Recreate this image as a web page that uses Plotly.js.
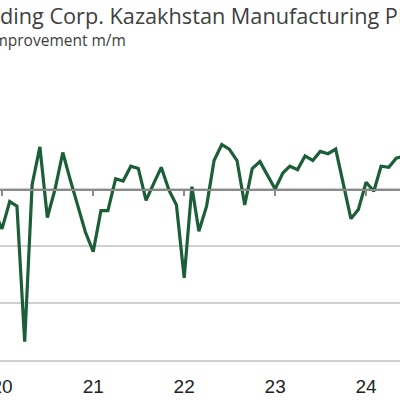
<!DOCTYPE html>
<html>
<head>
<meta charset="utf-8">
<script src="https://cdn.plot.ly/plotly-3.0.1.min.js"></script>
<style>
html,body{margin:0;padding:0;background:#fff;}
#chart{width:400px;height:400px;}
</style>
</head>
<body>
<div id="chart"></div>
<script>
var months = ["2019-12-01",
"2020-01-01","2020-02-01","2020-03-01","2020-04-01","2020-05-01","2020-06-01","2020-07-01","2020-08-01","2020-09-01","2020-10-01","2020-11-01","2020-12-01",
"2021-01-01","2021-02-01","2021-03-01","2021-04-01","2021-05-01","2021-06-01","2021-07-01","2021-08-01","2021-09-01","2021-10-01","2021-11-01","2021-12-01",
"2022-01-01","2022-02-01","2022-03-01","2022-04-01","2022-05-01","2022-06-01","2022-07-01","2022-08-01","2022-09-01","2022-10-01","2022-11-01","2022-12-01",
"2023-01-01","2023-02-01","2023-03-01","2023-04-01","2023-05-01","2023-06-01","2023-07-01","2023-08-01","2023-09-01","2023-10-01","2023-11-01","2023-12-01",
"2024-01-01","2024-02-01","2024-03-01","2024-04-01","2024-05-01","2024-06-01"];
var pmi = [48.0,
46.5,48.9,48.5,36.6,50.4,53.7,47.5,50.0,53.2,50.8,48.5,46.2,
44.5,48.1,48.1,50.9,50.7,52.0,51.8,49.0,50.5,51.9,49.9,48.6,
42.2,50.2,46.3,48.5,52.5,53.9,53.5,52.5,48.6,51.8,52.4,51.2,
50.0,51.4,52.0,51.7,52.9,52.5,53.3,53.1,53.5,50.5,47.4,48.2,
50.6,49.8,52.0,51.9,52.7,52.9];
var yTicks = [35,40,45,50,55];
var yearTicks = ["2020-01-01","2021-01-01","2022-01-01","2023-01-01","2024-01-01"];
var yearLabels = ["20","21","22","23","24"];
var titleText = "Freedom Holding Corp. Kazakhstan Manufacturing PMI";
var subtitleText = "sa, >50 = improvement m/m";

var xRange = ["2019-12-24","2024-05-16"];

var traces = [
  {x: months, y: pmi, xaxis: "x", yaxis: "y", type: "scatter", mode: "lines",
   line: {color: "#1b5e37", width: 3.2}, hoverinfo: "skip"},
  {x: months, y: pmi, xaxis: "x2", yaxis: "y", type: "scatter", mode: "lines",
   line: {color: "rgba(0,0,0,0)", width: 0}, hoverinfo: "skip", showlegend: false}
];

var layout = {
  width: 400, height: 400,
  margin: {l: 0, r: 0, t: 132, b: 40, pad: 0},
  paper_bgcolor: "#ffffff", plot_bgcolor: "#ffffff",
  showlegend: false,
  xaxis: {
    type: "date", range: xRange,
    tickvals: yearTicks, ticktext: yearLabels,
    showgrid: false, zeroline: false,
    showline: true, linecolor: "#cfcfcf", linewidth: 2,
    ticks: "", ticklabelstandoff: 8, ticklabeloverflow: "allow",
    tickfont: {family: "Liberation Sans, Arial, sans-serif", size: 19, color: "#222222"}
  },
  xaxis2: {
    type: "date", range: xRange, overlaying: "x",
    anchor: "free", position: 0.75,
    tickvals: yearTicks, showticklabels: false,
    showgrid: false, zeroline: false,
    showline: true, linecolor: "#8a8a8a", linewidth: 1.5,
    ticks: "outside", ticklen: 5, tickwidth: 1.5, tickcolor: "#8a8a8a"
  },
  yaxis: {
    range: [35, 55], tickvals: yTicks, showticklabels: false,
    showgrid: true, gridcolor: "#cfcfcf", gridwidth: 1.5,
    zeroline: false, showline: false, ticks: ""
  },
  annotations: [
    {xref: "paper", yref: "paper", x: -0.333, y: 1.513, xanchor: "left", yanchor: "middle",
     text: titleText, showarrow: false,
     font: {family: "Open Sans, sans-serif", size: 21.7, color: "#404040"}},
    {xref: "paper", yref: "paper", x: -0.2, y: 1.405, xanchor: "left", yanchor: "middle",
     text: subtitleText, showarrow: false,
     font: {family: "Open Sans, sans-serif", size: 15.5, color: "#404040"}}
  ]
};

Plotly.newPlot("chart", traces, layout, {staticPlot: true, displayModeBar: false});
</script>
</body>
</html>
